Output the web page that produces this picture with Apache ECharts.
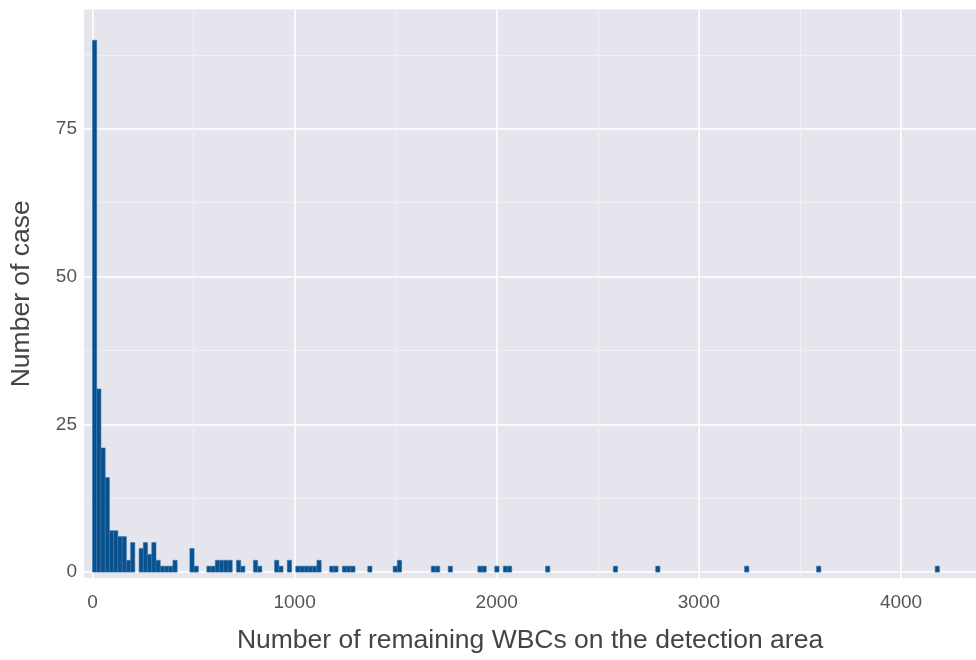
<!DOCTYPE html>
<html>
<head>
<meta charset="utf-8">
<script src="https://cdn.jsdelivr.net/npm/echarts@6/dist/echarts.min.js"></script>
<style>
  html, body { margin: 0; padding: 0; background: #ffffff; }
  #chart { width: 976px; height: 660px; }
</style>
</head>
<body>
<div id="chart"></div>
<script>
// Histogram: bin width (in WBC count units) and the first bin's left edge
const binStart = 0;
const binWidth = 20.95;
// Non-empty bins: bin index and number of cases
const binIndex = [0, 1, 2, 3, 4, 5, 6, 7, 8, 9, 11, 12, 13, 14, 15, 16, 17, 18, 19,
  23, 24, 27, 28, 29, 30, 31, 32, 34, 35, 38, 39, 43, 44, 46,
  48, 49, 50, 51, 52, 53, 56, 57, 59, 60, 61, 65, 71, 72,
  80, 81, 84, 91, 92, 95, 97, 98, 107, 123, 133, 154, 171, 199];
const binCount = [90, 31, 21, 16, 7, 7, 6, 6, 2, 5, 4, 5, 3, 5, 2, 1, 1, 1, 2,
  4, 1, 1, 1, 2, 2, 2, 2, 2, 1, 2, 1, 2, 1, 2,
  1, 1, 1, 1, 1, 2, 1, 1, 1, 1, 1, 1, 1, 2,
  1, 1, 1, 1, 1, 1, 1, 1, 1, 1, 1, 1, 1, 1];
// Tick labels / grid positions
const xMajorTicks = [0, 1000, 2000, 3000, 4000];
const xMinorTicks = [500, 1500, 2500, 3500];
const yMajorTicks = [0, 25, 50, 75];
const yMinorTicks = [12.5, 37.5, 62.5, 87.5];

const xTitle = 'Number of remaining WBCs on the detection area';
const yTitle = 'Number of case';

const bars = binIndex.map((b, i) => [binStart + b * binWidth, binStart + (b + 1) * binWidth, binCount[i]]);

const FONT = 'Liberation Sans, Arial, sans-serif';
const chart = echarts.init(document.getElementById('chart'), null, { renderer: 'canvas' });

chart.setOption({
  animation: false,
  backgroundColor: '#ffffff',
  grid: {
    left: 84, right: 0, top: 9.5, bottom: 82,
    show: true, backgroundColor: '#e5e6ed', borderWidth: 0
  },
  xAxis: [{
    type: 'value', min: -42, max: 4371, position: 'bottom',
    axisLine: { show: false },
    axisTick: { show: false, customValues: xMajorTicks },
    axisLabel: { customValues: xMajorTicks, formatter: v => String(v), color: '#555555', fontSize: 19, fontFamily: FONT, margin: 15 },
    splitLine: { show: true, lineStyle: { color: '#ffffff', width: 1.6 } },
    name: xTitle, nameLocation: 'middle', nameGap: 49,
    nameTextStyle: { color: '#444444', fontSize: 26.5, fontFamily: FONT }
  }, {
    type: 'value', min: -42, max: 4371, position: 'top',
    axisLine: { show: false },
    axisTick: { show: false, customValues: xMinorTicks },
    axisLabel: { show: false, customValues: xMinorTicks },
    splitLine: { show: true, lineStyle: { color: '#f1f1f5', width: 1 } }
  }],
  yAxis: [{
    type: 'value', min: -1, max: 95.2, position: 'left',
    axisLine: { show: false },
    axisTick: { show: false, customValues: yMajorTicks },
    axisLabel: { customValues: yMajorTicks, formatter: v => String(v), color: '#555555', fontSize: 19, fontFamily: FONT, margin: 7 },
    splitLine: { show: true, lineStyle: { color: '#ffffff', width: 1.6 } },
    name: yTitle, nameLocation: 'middle', nameGap: 49,
    nameTextStyle: { color: '#444444', fontSize: 26.5, fontFamily: FONT }
  }, {
    type: 'value', min: -1, max: 95.2, position: 'right',
    axisLine: { show: false },
    axisTick: { show: false, customValues: yMinorTicks },
    axisLabel: { show: false, customValues: yMinorTicks },
    splitLine: { show: true, lineStyle: { color: '#f1f1f5', width: 1 } }
  }],
  series: [{
    type: 'custom',
    xAxisIndex: 0, yAxisIndex: 0,
    data: bars,
    renderItem: function (params, api) {
      const p0 = api.coord([api.value(0), 0]);
      const p1 = api.coord([api.value(1), api.value(2)]);
      return {
        type: 'rect',
        shape: { x: p0[0], y: p1[1], width: p1[0] - p0[0], height: p0[1] - p1[1] },
        style: { fill: '#07518f', stroke: '#3b74a6', lineWidth: 0.6 }
      };
    }
  }]
});
</script>
</body>
</html>
